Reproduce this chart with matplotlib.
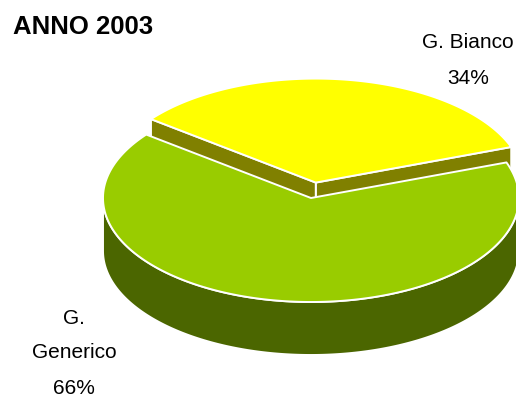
import numpy as np
import matplotlib.pyplot as plt
from matplotlib.patches import Polygon

plt.rcParams['font.family'] = ['Liberation Sans', 'DejaVu Sans']

# Dati
categorie = ['G. Bianco', 'G. Generico']
valori = [34, 66]
colori_top = ['#FFFF00', '#99CC00']
colori_lato = ['#808000', '#4B6600']
titolo = 'ANNO 2003'

# Geometria della torta 3D (pixel)
cx, cy = 311, 198      # centro
a, b = 208, 104        # semiassi ellisse
h = 53                 # spessore
start = 20.0           # angolo iniziale (gradi)
esplodi = [0.15, 0.0]


def punto(th, ox, oy, z=0.0):
    r = np.radians(th)
    return cx + ox + a * np.cos(r), cy + oy - b * np.sin(r) + z


def arco(t1, t2, ox, oy, z=0.0, n=200):
    t = np.linspace(t1, t2, n)
    x, y = punto(t, ox, oy, z)
    return np.column_stack([x, y])


fig = plt.figure(figsize=(5.16, 3.96), dpi=100)
ax = fig.add_axes([0, 0, 1, 1])
ax.set_xlim(0, 516)
ax.set_ylim(396, 0)
ax.axis('off')

# Angoli delle fette
tot = sum(valori)
angoli = []
t = start
for v in valori:
    angoli.append((t, t + 360 * v / tot))
    t += 360 * v / tot

fette = []
for i, (t1, t2) in enumerate(angoli):
    m = np.radians((t1 + t2) / 2)
    ox = esplodi[i] * a * np.cos(m)
    oy = -esplodi[i] * b * np.sin(m)
    fette.append((t1, t2, ox, oy))

ec = dict(edgecolor='white', linewidth=1.4, joinstyle='round')

# Fetta gialla (dietro): facce di taglio, poi superficie
t1, t2, ox, oy = fette[0]
apice = (cx + ox, cy + oy)
for th in (t1, t2):
    p = punto(th, ox, oy)
    quad = [apice, p, (p[0], p[1] + h), (apice[0], apice[1] + h)]
    ax.add_patch(Polygon(quad, closed=True, facecolor=colori_lato[0], **ec))
top = np.vstack([[apice], arco(t1, t2, ox, oy)])
ax.add_patch(Polygon(top, closed=True, facecolor=colori_top[0], **ec))

# Fetta verde (davanti): parete esterna, poi superficie
t1, t2, ox, oy = fette[1]
apice = (cx + ox, cy + oy)
lo, hi = max(t1, 180), min(t2, 360)
parete = np.vstack([arco(lo, hi, ox, oy), arco(hi, lo, ox, oy, z=h)])
ax.add_patch(Polygon(parete, closed=True, facecolor=colori_lato[1], **ec))
top = np.vstack([[apice], arco(t1, t2, ox, oy)])
ax.add_patch(Polygon(top, closed=True, facecolor=colori_top[1], **ec))

# Testi
ax.text(13, 27, titolo, fontsize=18.5, fontweight='bold', ha='left', va='center')
ax.text(468, 42, categorie[0], fontsize=15, ha='center', va='center')
ax.text(468, 78, f'{valori[0]}%', fontsize=15, ha='center', va='center')
ax.text(74, 319, 'G.', fontsize=15, ha='center', va='center')
ax.text(74, 353, categorie[1].split(' ')[1], fontsize=15, ha='center', va='center')
ax.text(74, 388, f'{valori[1]}%', fontsize=15, ha='center', va='center')

fig.savefig('out.png', dpi=100)
